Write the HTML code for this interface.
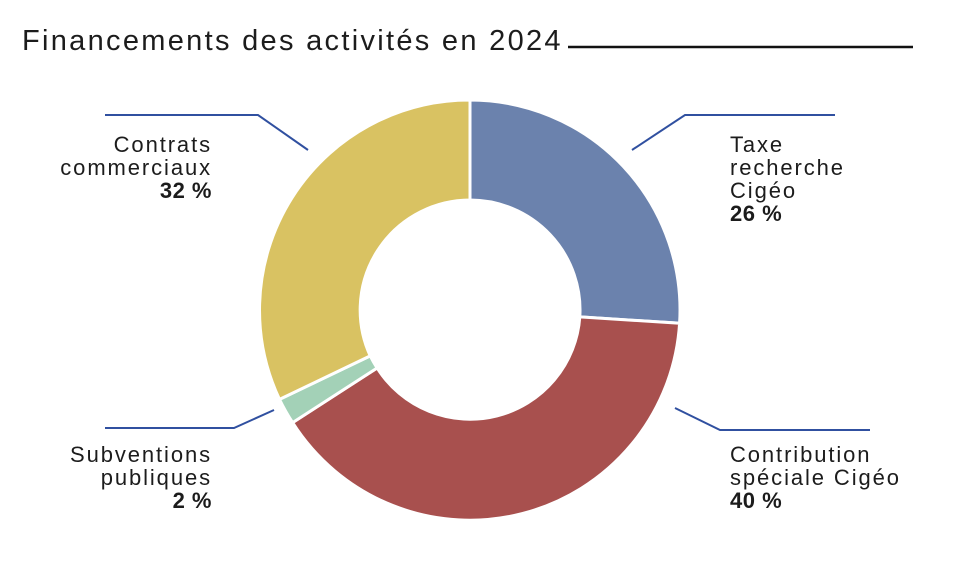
<!DOCTYPE html>
<html><head><meta charset="utf-8"><style>
body{margin:0;background:#fff;width:960px;height:572px;overflow:hidden}
svg text{font-family:"Liberation Sans",sans-serif;fill:#1c1c1c}
</style></head><body>
<svg width="960" height="572" viewBox="0 0 960 572" xmlns="http://www.w3.org/2000/svg">
<text x="22" y="50" font-size="29" letter-spacing="2.3">Financements des activités en 2024</text>
<line x1="568" y1="47" x2="913" y2="47" stroke="#111" stroke-width="2.5"/>
<g stroke="#fff" stroke-width="3">
<path d="M470,100 A210,210 0 0 1 679.6,323.2 L579.8,316.9 A110,110 0 0 0 470,200 Z" fill="#6b82ad"/>
<path d="M679.6,323.2 A210,210 0 0 1 292.6,422.6 L377.1,368.0 A110,110 0 0 0 579.8,316.9 Z" fill="#a8504e"/>
<path d="M292.6,422.6 A210,210 0 0 1 279.5,399.4 L370.2,355.9 A110,110 0 0 0 377.1,368.0 Z" fill="#a3d1b7"/>
<path d="M279.5,399.4 A210,210 0 0 1 470,100 L470,200 A110,110 0 0 0 370.2,355.9 Z" fill="#d9c262"/>
</g>
<g stroke="#3050a0" stroke-width="2" fill="none">
<polyline points="105,115 258,115 308,150"/>
<polyline points="835,115 685,115 632,150"/>
<polyline points="105,428 234,428 274,410"/>
<polyline points="675,408 720,430 870,430"/>
</g>
<g font-size="22" letter-spacing="1.9">
<text x="212" y="152" text-anchor="end">Contrats</text>
<text x="212" y="175" text-anchor="end">commerciaux</text>
<text x="212" y="198" text-anchor="end" font-weight="bold" letter-spacing="0.5">32 %</text>
<text x="730" y="152">Taxe</text>
<text x="730" y="175">recherche</text>
<text x="730" y="198">Cigéo</text>
<text x="730" y="221" font-weight="bold" letter-spacing="0.5">26 %</text>
<text x="212" y="462" text-anchor="end">Subventions</text>
<text x="212" y="485" text-anchor="end">publiques</text>
<text x="212" y="508" text-anchor="end" font-weight="bold" letter-spacing="0.5">2 %</text>
<text x="730" y="462">Contribution</text>
<text x="730" y="485">spéciale Cigéo</text>
<text x="730" y="508" font-weight="bold" letter-spacing="0.5">40 %</text>
</g>
</svg>
</body></html>
